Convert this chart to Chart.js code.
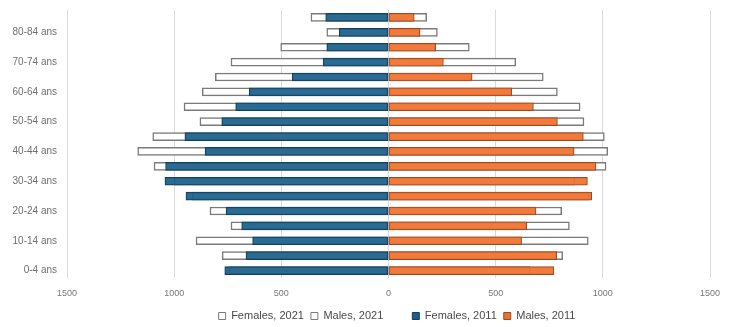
<!DOCTYPE html>
<html>
<head>
<meta charset="utf-8">
<title>Pyramide des âges 2011 / 2021</title>
<script src="https://cdn.jsdelivr.net/npm/chart.js@4/dist/chart.umd.min.js"></script>
<style>
  html, body { margin: 0; padding: 0; background: #ffffff; }
  #wrap { width: 738px; height: 327px; }
</style>
</head>
<body>
<div id="wrap"><canvas id="pyramid" width="738" height="327"></canvas></div>
<script>
// Age groups, youngest first (drawn bottom to top)
const ageGroups = [
  '0-4 ans', '5-9 ans', '10-14 ans', '15-19 ans', '20-24 ans', '25-29 ans',
  '30-34 ans', '35-39 ans', '40-44 ans', '45-49 ans', '50-54 ans', '55-59 ans',
  '60-64 ans', '65-69 ans', '70-74 ans', '75-79 ans', '80-84 ans', '85 ans et +'
];

// Population counts per age group
const females2021 = [745, 776, 898, 735, 833, 915, 1000, 1094, 1170, 1100, 880, 954, 869, 808, 735, 503, 288, 362];
const males2021   = [660, 813, 932, 844, 808, 935, 870, 1015, 1023, 1007, 912, 894, 788, 722, 594, 377, 228, 178];
const females2011 = [764, 665, 634, 685, 758, 945, 1043, 1040, 856, 950, 778, 713, 650, 449, 305, 288, 230, 293];
const males2011   = [772, 785, 621, 645, 688, 948, 928, 968, 866, 909, 788, 676, 575, 390, 256, 220, 147, 120];

// Axis ticks (absolute values shown on both sides)
const axisTicks = [-1500, -1000, -500, 0, 500, 1000, 1500];

const seriesLabels = ['Females, 2021', 'Males, 2021', 'Females, 2011', 'Males, 2011'];

const neg = arr => arr.map(v => -v);

Chart.defaults.font.family = '"Liberation Sans", Arial, Helvetica, sans-serif';
Chart.defaults.color = '#6f6f6f';

// Nudges the bottom legend so it sits under the centre of the pyramid
const legendOffset = {
  id: 'legendOffset',
  afterLayout(chart, args, opts) {
    const lg = chart.legend;
    if (!lg) return;
    lg.left += opts.dx; lg.right += opts.dx;
    lg.top += opts.dy; lg.bottom += opts.dy;
  }
};

const ctx = document.getElementById('pyramid').getContext('2d');

new Chart(ctx, {
  type: 'bar',
  plugins: [legendOffset],
  data: {
    labels: ageGroups,
    datasets: [
      {
        label: seriesLabels[0],
        data: neg(females2021),
        backgroundColor: '#ffffff',
        borderColor: '#7a7a7a',
        borderWidth: 1.5,
        order: 1
      },
      {
        label: seriesLabels[1],
        data: males2021,
        backgroundColor: '#ffffff',
        borderColor: '#7a7a7a',
        borderWidth: 1.5,
        order: 1
      },
      {
        // 2011 bars are drawn over the 2021 bars
        label: seriesLabels[2],
        data: neg(females2011),
        backgroundColor: 'rgba(27,96,138,0.93)',
        borderColor: '#123f5a',
        borderWidth: 1,
        order: 0
      },
      {
        label: seriesLabels[3],
        data: males2011,
        backgroundColor: 'rgba(240,112,46,0.93)',
        borderColor: '#9a4a22',
        borderWidth: 1,
        order: 0
      }
    ]
  },
  options: {
    indexAxis: 'y',
    responsive: false,
    animation: false,
    devicePixelRatio: 1,
    layout: { padding: { left: 0, right: 28, top: 10, bottom: 0 } },
    datasets: {
      bar: { grouped: false, barThickness: 8, borderSkipped: false }
    },
    scales: {
      x: {
        min: axisTicks[0],
        max: axisTicks[axisTicks.length - 1],
        afterBuildTicks: scale => { scale.ticks = axisTicks.map(v => ({ value: v })); },
        afterFit: scale => { scale.height = 21; },
        grid: { color: '#dadada', lineWidth: 1, drawTicks: false },
        border: { display: false },
        ticks: {
          padding: 10,
          color: '#777777',
          font: { size: 9, family: '"Liberation Sans Narrow", "Liberation Sans", Arial, sans-serif' },
          callback: v => Math.abs(v)
        }
      },
      y: {
        reverse: true,
        afterFit: scale => {
          scale.width = 67;
          // keep the plot area flush with the layout padding
          scale.paddingTop = 0;
          scale.paddingBottom = 0;
        },
        grid: { display: false, drawTicks: false },
        border: { display: false },
        ticks: {
          autoSkip: false,
          padding: 10,
          color: '#6f6f6f',
          font: { size: 10 },
          callback: function (v, i) { return i % 2 === 0 ? this.getLabelForValue(v) : ''; }
        }
      }
    },
    plugins: {
      tooltip: { enabled: false },
      legendOffset: { dx: 42, dy: 4.5 },
      legend: {
        position: 'bottom',
        labels: {
          boxWidth: 7,
          boxHeight: 7,
          padding: 7,
          color: '#4a4a4a',
          font: { size: 11 },
          sort: (a, b) => a.datasetIndex - b.datasetIndex,
          generateLabels: chart => {
            const items = Chart.defaults.plugins.legend.labels.generateLabels(chart);
            items.forEach(it => {
              it.lineWidth = 1;
              if (it.datasetIndex < 2) { it.fillStyle = '#ffffff'; it.strokeStyle = '#7a7a7a'; }
              else { it.fillStyle = it.datasetIndex === 2 ? '#1b608a' : '#f0702e'; }
              // wider gap between the 2021 and 2011 pairs
              if (it.datasetIndex === 1) { it.text = it.text + '\u2003\u2003'; }
            });
            return items;
          }
        }
      }
    }
  }
});
</script>
</body>
</html>
